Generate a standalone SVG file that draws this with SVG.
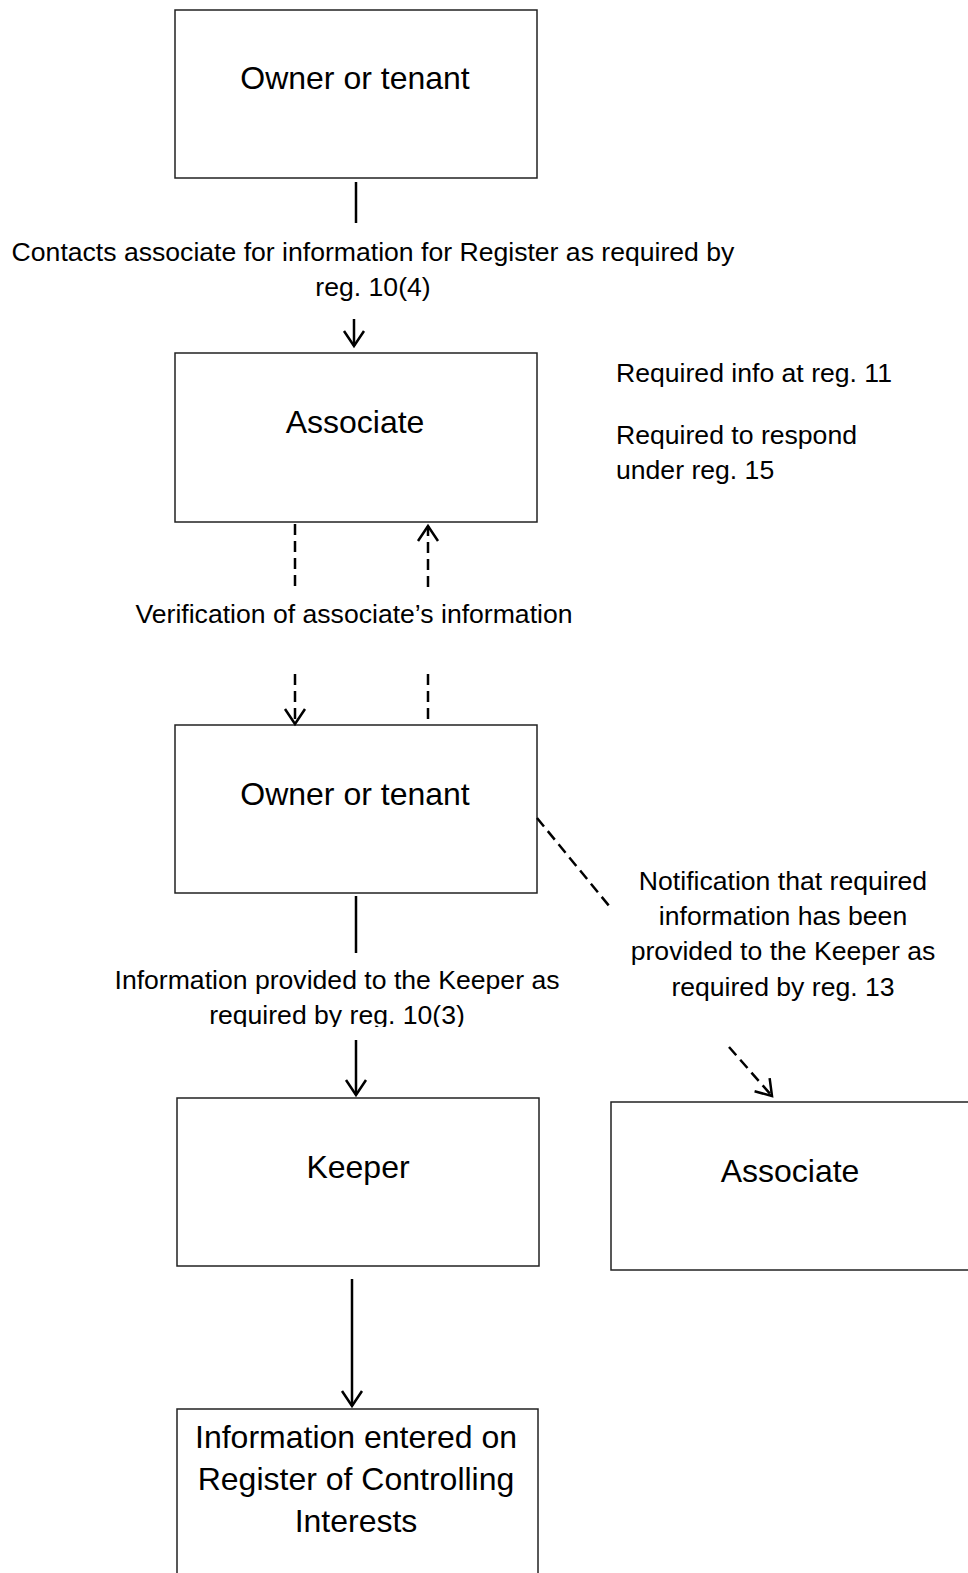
<svg xmlns="http://www.w3.org/2000/svg" width="968" height="1573" viewBox="0 0 968 1573">
<style>
.box{fill:#fff;stroke:#222;stroke-width:1.5}
.bt{font-family:"Liberation Sans",Arial,sans-serif;font-size:32px;fill:#000;text-anchor:middle}
.lt{font-family:"Liberation Sans",Arial,sans-serif;font-size:26.6px;fill:#000;text-anchor:middle}
.ls{font-family:"Liberation Sans",Arial,sans-serif;font-size:26.6px;fill:#000}
.c{stroke:#000;stroke-width:2.5;fill:none}
.d{stroke:#000;stroke-width:2.5;fill:none;stroke-dasharray:11 6}
</style>
<defs>
<marker id="arr" markerUnits="userSpaceOnUse" markerWidth="24" markerHeight="24" viewBox="0 0 24 24" refX="20" refY="12" orient="auto">
<path d="M5,2 L20,12 L5,22" fill="none" stroke="#000" stroke-width="2.5"/>
</marker>
<clipPath id="clipInfo"><rect x="0" y="940" width="968" height="87"/></clipPath>
</defs>
<rect width="968" height="1573" fill="#fff"/>
<g id="owner1"><rect class="box" x="175" y="10" width="362" height="168"/><text class="bt" x="355" y="89">Owner or tenant</text></g>
<g id="associate1"><rect class="box" x="175" y="353" width="362" height="169"/><text class="bt" x="355" y="433">Associate</text></g>
<g id="owner2"><rect class="box" x="175" y="725" width="362" height="168"/><text class="bt" x="355" y="805">Owner or tenant</text></g>
<g id="keeper"><rect class="box" x="177" y="1098" width="362" height="168"/><text class="bt" x="358" y="1178">Keeper</text></g>
<g id="associate2"><rect class="box" x="611" y="1102" width="370" height="168"/><text class="bt" x="790" y="1182">Associate</text></g>
<g id="register"><rect class="box" x="177" y="1409" width="361" height="180"/><text class="bt" x="356" y="1448">Information entered on</text><text class="bt" x="356" y="1490">Register of Controlling</text><text class="bt" x="356" y="1532">Interests</text></g>
<g id="notes">
<text class="ls" x="616" y="382">Required info at reg. 11</text>
<text class="ls" x="616" y="444">Required to respond</text>
<text class="ls" x="616" y="479">under reg. 15</text>
</g>
<g id="connectors">
<line class="c" x1="356" y1="182" x2="356" y2="223"/>
<text class="lt" x="373" y="261">Contacts associate for information for Register as required by</text>
<text class="lt" x="373" y="296">reg. 10(4)</text>
<line class="c" x1="354" y1="319" x2="354" y2="346" marker-end="url(#arr)"/>
<line class="d" x1="295" y1="524" x2="295" y2="587"/>
<line class="d" x1="428" y1="587" x2="428" y2="526" marker-end="url(#arr)"/>
<text class="lt" x="354" y="623">Verification of associate’s information</text>
<line class="d" x1="295" y1="674" x2="295" y2="724" marker-end="url(#arr)"/>
<line class="d" x1="428" y1="674" x2="428" y2="725"/>
<line class="c" x1="356" y1="896" x2="356" y2="953"/>
<g clip-path="url(#clipInfo)"><text class="lt" x="337" y="989">Information provided to the Keeper as</text><text class="lt" x="337" y="1024">required by reg. 10(3)</text></g>
<line class="c" x1="356" y1="1040" x2="356" y2="1095" marker-end="url(#arr)"/>
<line class="d" x1="537" y1="818" x2="610" y2="907"/>
<text class="lt" x="783" y="890">Notification that required</text>
<text class="lt" x="783" y="925">information has been</text>
<text class="lt" x="783" y="960">provided to the Keeper as</text>
<text class="lt" x="783" y="996">required by reg. 13</text>
<line class="d" x1="729" y1="1047" x2="772" y2="1096" marker-end="url(#arr)"/>
<line class="c" x1="352" y1="1279" x2="352" y2="1406" marker-end="url(#arr)"/>
</g>
</svg>
